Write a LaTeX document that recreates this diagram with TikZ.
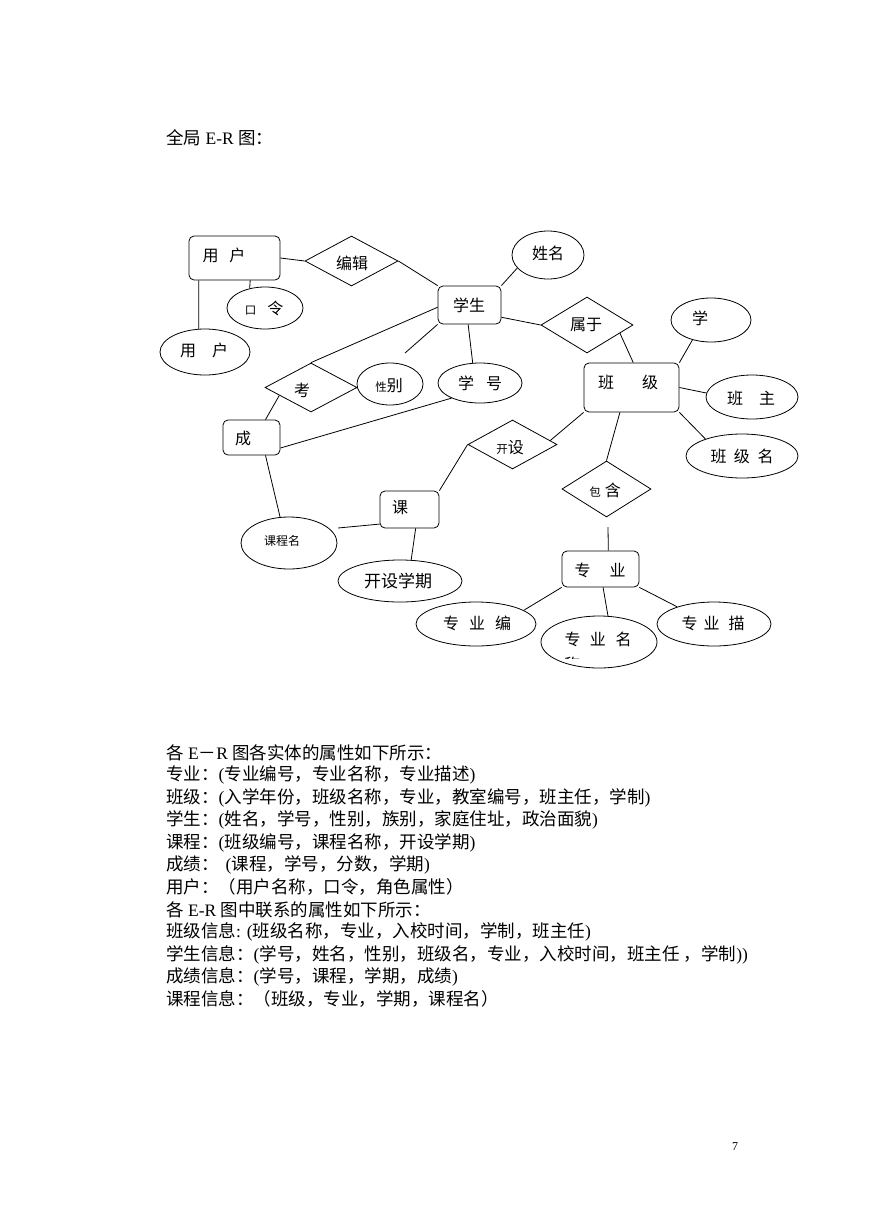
\documentclass[tikz,border=0pt]{standalone}
\usepackage{fontspec}
\setmainfont{Liberation Serif}
\newfontfamily\cjk{Noto Sans CJK SC}
\usetikzlibrary{shapes.geometric,calc}
\newcommand\lt[1]{{\rmfamily #1}}
\newcommand\smcj{\fontsize{11.5}{12}\selectfont}
\begin{document}
\begin{tikzpicture}[x=1pt,y=-1pt,
  ent/.style={draw,rounded corners=5pt,line width=0.8pt,inner sep=0pt},
  rel/.style={draw,diamond,line width=0.8pt,inner sep=0pt},
  att/.style={draw,ellipse,line width=0.8pt,inner sep=0pt},
  lbl/.style={inner sep=0pt,font=\cjk\fontsize{16}{16}\selectfont},
  sml/.style={inner sep=0pt,font=\cjk\fontsize{12}{12}\selectfont},
  body/.style={inner sep=0pt,anchor=west,font=\cjk\fontsize{17.5}{20}\selectfont},
  conn/.style={line width=0.8pt}]
\fill[white] (0,0) rectangle (869,1228);
\useasboundingbox (0,0) rectangle (869,1228);

\node[body] (title) at (166,138) {全局\lt{ E-R }图：};

% entities
\node[ent,minimum width=91pt,minimum height=44pt] (user) at (234.5,258) {};
\node[lbl] (userT) at (224,255) {用\hspace{11pt}户};
\node[ent,minimum width=63pt,minimum height=38pt] (stu) at (469.5,305) {};
\node[lbl] (stuT) at (469,305) {学生};
\node[ent,minimum width=95pt,minimum height=49pt] (cls) at (631.5,387.5) {};
\node[lbl] (clsT) at (628,382) {班\hspace{28pt}级};
\node[ent,minimum width=57pt,minimum height=35pt] (cj) at (251.5,437.5) {};
\node[lbl] (cjT) at (243,438) {成};
\node[ent,minimum width=59pt,minimum height=37pt] (ke) at (409.5,509.5) {};
\node[lbl] (keT) at (400,508) {课};
\node[ent,minimum width=77pt,minimum height=36pt] (zy) at (600.5,569) {};
\node[lbl] (zyT) at (600,570) {专\hspace{19pt}业};

% relationships
\node[rel,minimum width=93pt,minimum height=50pt] (bj) at (351.5,261) {};
\node[lbl] (bjT) at (352,263) {编辑};
\node[rel,minimum width=92pt,minimum height=49pt] (kao) at (311,387.5) {};
\node[lbl] (kaoT) at (302,390) {考};
\node[rel,minimum width=92pt,minimum height=56pt] (sy) at (587,325) {};
\node[lbl] (syT) at (586,325) {属于};
\node[rel,minimum width=89pt,minimum height=49pt] (ks) at (512.5,444.5) {};
\node[lbl] (ksT) at (510,448) {{\smcj 开}设};
\node[rel,minimum width=89pt,minimum height=56pt] (bh) at (606.5,489) {};
\node[lbl] (bhT) at (605,490) {{\smcj 包}\hspace{4pt}含};

% attributes
\node[att,minimum width=76pt,minimum height=42pt] (upw) at (265,308) {};
\node[lbl] (upwT) at (264,308) {{\smcj 口}\hspace{11pt}令};
\node[att,minimum width=90pt,minimum height=46pt] (uname) at (205,352) {};
\node[lbl] (unameT) at (204,350) {用\hspace{16pt}户};
\node[att,minimum width=72pt,minimum height=48pt] (xm) at (548,255) {};
\node[lbl] (xmT) at (548,253) {姓名};
\node[att,minimum width=66pt,minimum height=42pt] (xb) at (390,384) {};
\node[lbl] (xbT) at (389,386) {{\smcj 性}别};
\node[att,minimum width=84pt,minimum height=40pt] (xh) at (480,383) {};
\node[lbl] (xhT) at (480,383) {学\hspace{12pt}号};
\node[att,minimum width=80pt,minimum height=44pt] (xue) at (711,320) {};
\node[lbl] (xueT) at (700,318) {学};
\node[att,minimum width=92pt,minimum height=44pt] (bzr) at (752,397) {};
\node[lbl] (bzrT) at (751,398) {班\hspace{16pt}主};
\node[att,minimum width=112pt,minimum height=44pt] (bjm) at (742,456) {};
\node[lbl] (bjmT) at (742,456) {班\hspace{7.5pt}级\hspace{7.5pt}名};
\node[att,minimum width=96pt,minimum height=52pt] (kcm) at (289,543) {};
\node[sml] (kcmT) at (282,541) {课程名};
\node[att,minimum width=124pt,minimum height=42pt] (kxq) at (400,581) {};
\node[lbl,font=\cjk\fontsize{17}{17}\selectfont] (kxqT) at (398,581) {开设学期};
\node[att,minimum width=120pt,minimum height=44pt] (zyb) at (476,624) {};
\node[lbl] (zybT) at (477,623) {专\hspace{10pt}业\hspace{10pt}编};
\node[att,minimum width=116pt,minimum height=52pt] (zym) at (599,642) {};
\node[lbl] (zymT) at (598,639) {专\hspace{9.5pt}业\hspace{9.5pt}名};
\begin{scope}
\clip (540,600) rectangle (660,658);
\node[lbl] (zymT2) at (572,664) {称};
\end{scope}
\node[att,minimum width=114pt,minimum height=44pt] (zyms) at (714,624) {};
\node[lbl] (zymsT) at (713,623) {专\hspace{6pt}业\hspace{9pt}描};

% connectors
\draw[conn] (user.east) -- (bj.west);
\draw[conn] (bj.east) -- (stu.north west);
\draw[conn] (user.-55) -- (upw.128);
\draw[conn] (user.-148) -- (uname.105);
\draw[conn] (stu.184) -- (kao.north);
\coordinate (xbEnd) at (405,353);
\draw[conn] (stu.south west) -- (xbEnd);
\draw[conn] (stu.-94) -- (xh.110);
\draw[conn] (xh.208) -- (cj.-20);
\draw[conn] (kao.194) -- (cj.52);
\draw[conn] (cj.-52) -- (kcm.109);
\coordinate (kcmEnd) at (338,528);
\draw[conn] (kcmEnd) -- (ke.206);
\draw[conn] (ke.-72) -- (kxq.62);
\draw[conn] (ke.north east) -- (ks.west);
\draw[conn] (ks.6) -- (cls.south west);
\draw[conn] (cls.-115) -- (bh.north);
\coordinate (bhEnd) at (608,527);
\draw[conn] (bhEnd) -- (zy.67);
\draw[conn] (zy.south west) -- (zyb.16);
\draw[conn] (zy.-82) -- (zym.71);
\draw[conn] (zy.south east) -- (zyms.155);
\draw[conn] (stu.-21) -- (sy.west);
\draw[conn] (sy.-14) -- (cls.86);
\draw[conn] (stu.north east) -- (xm.203);
\draw[conn] (cls.north east) -- (xue.227);
\draw[conn] (cls.east) -- (bzr.175);
\draw[conn] (cls.south east) -- (bjm.155);

% text block
\node[body] (l1) at (166,753) {各\lt{ E}－\lt{R }图各实体的属性如下所示：};
\node[body] (l2) at (166,775.4) {专业：\lt{(}专业编号，专业名称，专业描述\lt{)}};
\node[body] (l3) at (166,797.8) {班级：\lt{(}入学年份，班级名称，专业，教室编号，班主任，学制\lt{)}};
\node[body] (l4) at (166,820.2) {学生：\lt{(}姓名，学号，性别，族别，家庭住址，政治面貌\lt{)}};
\node[body] (l5) at (166,842.6) {课程：\lt{(}班级编号，课程名称，开设学期\lt{)}};
\node[body] (l6) at (166,865) {成绩：\lt{\hspace{7pt}(}课程，学号，分数，学期\lt{)}};
\node[body] (l7) at (166,887.4) {用户：（用户名称，口令，角色属性）};
\node[body] (l8) at (166,909.8) {各\lt{ E-R }图中联系的属性如下所示：};
\node[body] (l9) at (166,932.2) {班级信息\lt{: (}班级名称，专业，入校时间，学制，班主任\lt{)}};
\node[body] (l10) at (166,954.6) {学生信息：\lt{(}学号，姓名，性别，班级名，专业，入校时间，班主任\lt{ }，学制\lt{))}};
\node[body] (l11) at (166,977) {成绩信息：\lt{(}学号，课程，学期，成绩\lt{)}};
\node[body] (l12) at (166,999.4) {课程信息：（班级，专业，学期，课程名）};

\node[inner sep=0pt,font=\fontsize{12}{12}\selectfont] (pg) at (735,1147) {7};
\end{tikzpicture}
\end{document}
